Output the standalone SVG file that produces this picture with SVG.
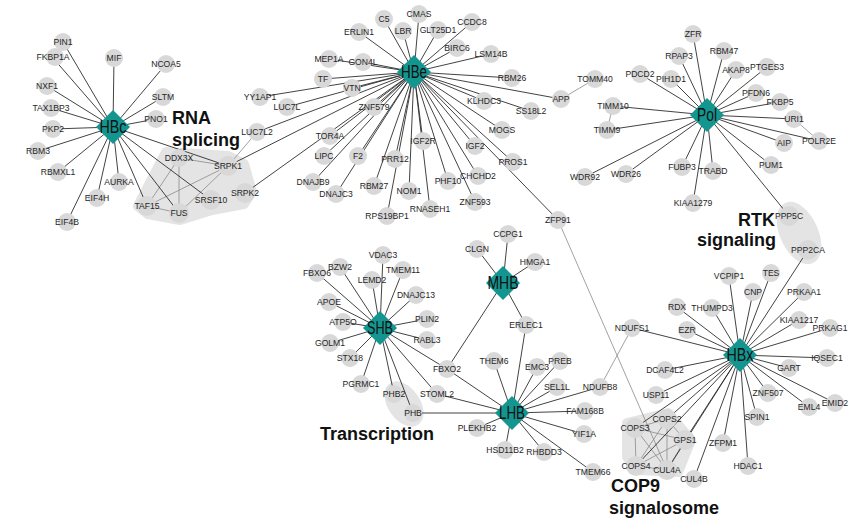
<svg xmlns="http://www.w3.org/2000/svg" xmlns:xlink="http://www.w3.org/1999/xlink" width="851" height="520" viewBox="0 0 851 520">
<style>
.bg{fill:#ffffff}
.blob{fill:#e4e4e4;stroke:#e4e4e4;stroke-width:10;stroke-linejoin:round}
.e line{stroke:#2e2e2e;stroke-width:0.9}
.g line{stroke:#8a8a8a;stroke-width:0.8}
.n circle{fill:#d8d8d8}
.n text{font-family:"Liberation Sans",Arial,sans-serif;font-size:8.6px;fill:#262626;text-anchor:middle}
.h use{fill:#13968f}
.h text{font-family:"Liberation Sans",Arial,sans-serif;font-size:18px;fill:#111;text-anchor:middle}
.t{font-family:"Liberation Sans",Arial,sans-serif;font-size:18px;font-weight:bold;fill:#111}
</style>
<defs>
<path id="dia" d="M0-17L17 0 0 17-17 0Z"/>
</defs>
<rect class="bg" width="851" height="520"/>

<!-- complex shading -->
<g id="complexes">
<path class="blob" d="M138,206 L166,152 L228,156 L244,164 L252,192 L244,204 L212,210 L180,220 L148,214 Z"/>
<ellipse class="blob" cx="404" cy="404" rx="11" ry="20" transform="rotate(-35 404 404)" stroke-width="4"/>
<ellipse class="blob" cx="799" cy="233" rx="14" ry="28" transform="rotate(-25 799 233)" stroke-width="4"/>
<path class="blob" d="M627,423 L668,413 L691,440 L678,472 L639,470 L627,457 Z"/>
</g>

<!-- edges -->
<g id="connectors">
<g class="g">
<line x1="561" y1="99" x2="595" y2="79"/>
<line x1="613" y1="106" x2="607" y2="130"/>
<line x1="794" y1="119" x2="819" y2="141"/>
<line x1="257" y1="132" x2="228" y2="166"/>
<line x1="632" y1="328" x2="600" y2="387"/>
<line x1="558" y1="220" x2="667" y2="470"/>
<line x1="179" y1="158" x2="147" y2="206"/>
<line x1="179" y1="158" x2="179" y2="213"/>
<line x1="179" y1="158" x2="228" y2="166"/>
<line x1="228" y1="166" x2="147" y2="206"/>
<line x1="228" y1="166" x2="179" y2="213"/>
<line x1="147" y1="206" x2="179" y2="213"/>
<line x1="635" y1="428" x2="667" y2="419"/>
<line x1="635" y1="428" x2="685" y2="440"/>
<line x1="635" y1="428" x2="636" y2="466"/>
<line x1="635" y1="428" x2="667" y2="470"/>
<line x1="667" y1="419" x2="636" y2="466"/>
<line x1="667" y1="419" x2="667" y2="470"/>
<line x1="667" y1="419" x2="685" y2="440"/>
<line x1="685" y1="440" x2="636" y2="466"/>
<line x1="685" y1="440" x2="667" y2="470"/>
<line x1="636" y1="466" x2="667" y2="470"/>
</g>
<g class="e">
<!-- HBc -->
<line x1="113" y1="127" x2="63" y2="42"/>
<line x1="113" y1="127" x2="53" y2="58"/>
<line x1="113" y1="127" x2="114" y2="58"/>
<line x1="113" y1="127" x2="166" y2="64"/>
<line x1="113" y1="127" x2="47" y2="86"/>
<line x1="113" y1="127" x2="163" y2="97"/>
<line x1="113" y1="127" x2="51" y2="108"/>
<line x1="113" y1="127" x2="156" y2="119"/>
<line x1="113" y1="127" x2="53" y2="129"/>
<line x1="113" y1="127" x2="38" y2="151"/>
<line x1="113" y1="127" x2="58" y2="172"/>
<line x1="113" y1="127" x2="119" y2="182"/>
<line x1="113" y1="127" x2="97" y2="198"/>
<line x1="113" y1="127" x2="67" y2="222"/>
<line x1="113" y1="127" x2="147" y2="206"/>
<line x1="113" y1="127" x2="179" y2="213"/>
<line x1="113" y1="127" x2="211" y2="200"/>
<line x1="113" y1="127" x2="228" y2="166"/>
<!-- HBe -->
<line x1="414" y1="72" x2="384" y2="19"/>
<line x1="414" y1="72" x2="419" y2="14"/>
<line x1="414" y1="72" x2="403" y2="31"/>
<line x1="414" y1="72" x2="438" y2="30"/>
<line x1="414" y1="72" x2="472" y2="22"/>
<line x1="414" y1="72" x2="359" y2="32"/>
<line x1="414" y1="72" x2="457" y2="48"/>
<line x1="414" y1="72" x2="491" y2="54"/>
<line x1="414" y1="72" x2="329" y2="59"/>
<line x1="414" y1="72" x2="363" y2="62"/>
<line x1="414" y1="72" x2="323" y2="79"/>
<line x1="414" y1="72" x2="352" y2="88"/>
<line x1="414" y1="72" x2="512" y2="78"/>
<line x1="414" y1="72" x2="561" y2="99"/>
<line x1="414" y1="72" x2="484" y2="101"/>
<line x1="414" y1="72" x2="531" y2="111"/>
<line x1="414" y1="72" x2="374" y2="107"/>
<line x1="414" y1="72" x2="502" y2="130"/>
<line x1="414" y1="72" x2="330" y2="136"/>
<line x1="414" y1="72" x2="423" y2="141"/>
<line x1="414" y1="72" x2="475" y2="146"/>
<line x1="414" y1="72" x2="324" y2="156"/>
<line x1="414" y1="72" x2="358" y2="156"/>
<line x1="414" y1="72" x2="395" y2="159"/>
<line x1="414" y1="72" x2="513" y2="162"/>
<line x1="414" y1="72" x2="313" y2="182"/>
<line x1="414" y1="72" x2="336" y2="194"/>
<line x1="414" y1="72" x2="374" y2="186"/>
<line x1="414" y1="72" x2="409" y2="191"/>
<line x1="414" y1="72" x2="448" y2="181"/>
<line x1="414" y1="72" x2="478" y2="176"/>
<line x1="414" y1="72" x2="475" y2="202"/>
<line x1="414" y1="72" x2="430" y2="209"/>
<line x1="414" y1="72" x2="387" y2="216"/>
<line x1="414" y1="72" x2="558" y2="220"/>
<line x1="414" y1="72" x2="260" y2="97"/>
<line x1="414" y1="72" x2="287" y2="107"/>
<line x1="414" y1="72" x2="257" y2="132"/>
<line x1="414" y1="72" x2="228" y2="166"/>
<line x1="414" y1="72" x2="245" y2="193"/>
<!-- Pol -->
<line x1="707" y1="115" x2="693" y2="34"/>
<line x1="707" y1="115" x2="679" y2="56"/>
<line x1="707" y1="115" x2="724" y2="51"/>
<line x1="707" y1="115" x2="736" y2="70"/>
<line x1="707" y1="115" x2="767" y2="67"/>
<line x1="707" y1="115" x2="640" y2="74"/>
<line x1="707" y1="115" x2="671" y2="79"/>
<line x1="707" y1="115" x2="756" y2="93"/>
<line x1="707" y1="115" x2="780" y2="102"/>
<line x1="707" y1="115" x2="613" y2="106"/>
<line x1="707" y1="115" x2="794" y2="119"/>
<line x1="707" y1="115" x2="607" y2="130"/>
<line x1="707" y1="115" x2="784" y2="143"/>
<line x1="707" y1="115" x2="819" y2="141"/>
<line x1="707" y1="115" x2="771" y2="165"/>
<line x1="707" y1="115" x2="682" y2="167"/>
<line x1="707" y1="115" x2="713" y2="171"/>
<line x1="707" y1="115" x2="585" y2="177"/>
<line x1="707" y1="115" x2="626" y2="174"/>
<line x1="707" y1="115" x2="693" y2="203"/>
<line x1="707" y1="115" x2="789" y2="216"/>
<!-- HBx -->
<line x1="740" y1="355" x2="808" y2="250"/>
<line x1="740" y1="355" x2="729" y2="276"/>
<line x1="740" y1="355" x2="771" y2="273"/>
<line x1="740" y1="355" x2="753" y2="292"/>
<line x1="740" y1="355" x2="804" y2="292"/>
<line x1="740" y1="355" x2="677" y2="307"/>
<line x1="740" y1="355" x2="712" y2="308"/>
<line x1="740" y1="355" x2="799" y2="320"/>
<line x1="740" y1="355" x2="830" y2="328"/>
<line x1="740" y1="355" x2="632" y2="328"/>
<line x1="740" y1="355" x2="687" y2="330"/>
<line x1="740" y1="355" x2="827" y2="358"/>
<line x1="740" y1="355" x2="665" y2="370"/>
<line x1="740" y1="355" x2="789" y2="368"/>
<line x1="740" y1="355" x2="656" y2="395"/>
<line x1="740" y1="355" x2="768" y2="393"/>
<line x1="740" y1="355" x2="809" y2="407"/>
<line x1="740" y1="355" x2="835" y2="403"/>
<line x1="740" y1="355" x2="757" y2="417"/>
<line x1="740" y1="355" x2="723" y2="443"/>
<line x1="740" y1="355" x2="748" y2="466"/>
<line x1="740" y1="355" x2="667" y2="419"/>
<line x1="740" y1="355" x2="635" y2="428"/>
<line x1="740" y1="355" x2="685" y2="440"/>
<line x1="740" y1="355" x2="636" y2="466"/>
<line x1="740" y1="355" x2="667" y2="470"/>
<line x1="740" y1="355" x2="694" y2="479"/>
<!-- SHB -->
<line x1="380" y1="328" x2="383" y2="255"/>
<line x1="380" y1="328" x2="340" y2="267"/>
<line x1="380" y1="328" x2="317" y2="273"/>
<line x1="380" y1="328" x2="403" y2="270"/>
<line x1="380" y1="328" x2="372" y2="280"/>
<line x1="380" y1="328" x2="416" y2="295"/>
<line x1="380" y1="328" x2="329" y2="302"/>
<line x1="380" y1="328" x2="343" y2="322"/>
<line x1="380" y1="328" x2="427" y2="319"/>
<line x1="380" y1="328" x2="330" y2="343"/>
<line x1="380" y1="328" x2="427" y2="340"/>
<line x1="380" y1="328" x2="350" y2="358"/>
<line x1="380" y1="328" x2="361" y2="384"/>
<line x1="380" y1="328" x2="394" y2="394"/>
<line x1="380" y1="328" x2="413" y2="413"/>
<line x1="380" y1="328" x2="437" y2="394"/>
<line x1="380" y1="328" x2="447" y2="369"/>
<!-- MHB -->
<line x1="503" y1="283" x2="477" y2="249"/>
<line x1="503" y1="283" x2="508" y2="234"/>
<line x1="503" y1="283" x2="535" y2="262"/>
<line x1="503" y1="283" x2="526" y2="325"/>
<line x1="503" y1="283" x2="447" y2="369"/>
<!-- LHB -->
<line x1="512" y1="413" x2="413" y2="413"/>
<line x1="512" y1="413" x2="437" y2="394"/>
<line x1="512" y1="413" x2="447" y2="369"/>
<line x1="512" y1="413" x2="494" y2="361"/>
<line x1="512" y1="413" x2="526" y2="325"/>
<line x1="512" y1="413" x2="537" y2="367"/>
<line x1="512" y1="413" x2="560" y2="361"/>
<line x1="512" y1="413" x2="557" y2="387"/>
<line x1="512" y1="413" x2="600" y2="387"/>
<line x1="512" y1="413" x2="585" y2="411"/>
<line x1="512" y1="413" x2="584" y2="434"/>
<line x1="512" y1="413" x2="593" y2="472"/>
<line x1="512" y1="413" x2="544" y2="452"/>
<line x1="512" y1="413" x2="505" y2="450"/>
<line x1="512" y1="413" x2="477" y2="428"/>
</g>
</g>

<!-- protein nodes -->
<g class="n">
<g id="n-PIN1"><circle cx="63" cy="42" r="9"/><text x="63" y="45">PIN1</text></g>
<g id="n-FKBP1A"><circle cx="55" cy="57" r="9"/><text x="53" y="60">FKBP1A</text></g>
<g id="n-MIF"><circle cx="114" cy="58" r="9"/><text x="114" y="61">MIF</text></g>
<g id="n-NCOA5"><circle cx="166" cy="64" r="9"/><text x="166" y="67">NCOA5</text></g>
<g id="n-NXF1"><circle cx="47" cy="86" r="9"/><text x="47" y="89">NXF1</text></g>
<g id="n-SLTM"><circle cx="163" cy="97" r="9"/><text x="163" y="100">SLTM</text></g>
<g id="n-TAX1BP3"><circle cx="51" cy="108" r="9"/><text x="51" y="111">TAX1BP3</text></g>
<g id="n-PNO1"><circle cx="156" cy="119" r="9"/><text x="156" y="122">PNO1</text></g>
<g id="n-PKP2"><circle cx="53" cy="129" r="9"/><text x="53" y="132">PKP2</text></g>
<g id="n-RBM3"><circle cx="38" cy="151" r="9"/><text x="38" y="154">RBM3</text></g>
<g id="n-RBMXL1"><circle cx="58" cy="172" r="9"/><text x="58" y="175">RBMXL1</text></g>
<g id="n-AURKA"><circle cx="119" cy="182" r="9"/><text x="119" y="185">AURKA</text></g>
<g id="n-EIF4H"><circle cx="97" cy="198" r="9"/><text x="97" y="201">EIF4H</text></g>
<g id="n-EIF4B"><circle cx="67" cy="222" r="9"/><text x="67" y="225">EIF4B</text></g>
<g id="n-DDX3X"><circle cx="179" cy="158" r="9"/><text x="179" y="161">DDX3X</text></g>
<g id="n-SRPK1"><circle cx="228" cy="166" r="10"/><text x="228" y="169">SRPK1</text></g>
<g id="n-SRPK2"><circle cx="245" cy="193" r="10"/><text x="245" y="196">SRPK2</text></g>
<g id="n-SRSF10"><circle cx="211" cy="200" r="10"/><text x="211" y="203">SRSF10</text></g>
<g id="n-TAF15"><circle cx="147" cy="206" r="10"/><text x="147" y="209">TAF15</text></g>
<g id="n-FUS"><circle cx="179" cy="213" r="10"/><text x="179" y="216">FUS</text></g>

<g id="n-C5"><circle cx="384" cy="19" r="9"/><text x="384" y="22">C5</text></g>
<g id="n-CMAS"><circle cx="419" cy="14" r="9"/><text x="419" y="17">CMAS</text></g>
<g id="n-LBR"><circle cx="403" cy="31" r="9"/><text x="403" y="34">LBR</text></g>
<g id="n-GLT25D1"><circle cx="438" cy="30" r="9"/><text x="438" y="33">GLT25D1</text></g>
<g id="n-CCDC8"><circle cx="472" cy="22" r="9"/><text x="472" y="25">CCDC8</text></g>
<g id="n-ERLIN1"><circle cx="359" cy="32" r="9"/><text x="359" y="35">ERLIN1</text></g>
<g id="n-BIRC6"><circle cx="457" cy="48" r="9"/><text x="457" y="51">BIRC6</text></g>
<g id="n-LSM14B"><circle cx="491" cy="54" r="9"/><text x="491" y="57">LSM14B</text></g>
<g id="n-MEP1A"><circle cx="329" cy="59" r="9"/><text x="329" y="62">MEP1A</text></g>
<g id="n-GON4L"><circle cx="363" cy="62" r="9"/><text x="363" y="65">GON4L</text></g>
<g id="n-TF"><circle cx="323" cy="79" r="9"/><text x="323" y="82">TF</text></g>
<g id="n-VTN"><circle cx="352" cy="88" r="9"/><text x="352" y="91">VTN</text></g>
<g id="n-RBM26"><circle cx="512" cy="78" r="9"/><text x="512" y="81">RBM26</text></g>
<g id="n-APP"><circle cx="561" cy="99" r="9"/><text x="561" y="102">APP</text></g>
<g id="n-KLHDC3"><circle cx="484" cy="101" r="9"/><text x="484" y="104">KLHDC3</text></g>
<g id="n-SS18L2"><circle cx="531" cy="111" r="9"/><text x="531" y="114">SS18L2</text></g>
<g id="n-ZNF579"><circle cx="374" cy="107" r="9"/><text x="374" y="110">ZNF579</text></g>
<g id="n-MOGS"><circle cx="502" cy="130" r="9"/><text x="502" y="133">MOGS</text></g>
<g id="n-TOR4A"><circle cx="330" cy="136" r="9"/><text x="330" y="139">TOR4A</text></g>
<g id="n-IGF2R"><circle cx="423" cy="141" r="9"/><text x="423" y="144">IGF2R</text></g>
<g id="n-IGF2"><circle cx="475" cy="146" r="9"/><text x="475" y="149">IGF2</text></g>
<g id="n-LIPC"><circle cx="324" cy="156" r="9"/><text x="324" y="159">LIPC</text></g>
<g id="n-F2"><circle cx="358" cy="156" r="9"/><text x="358" y="159">F2</text></g>
<g id="n-PRR12"><circle cx="395" cy="159" r="9"/><text x="395" y="162">PRR12</text></g>
<g id="n-PROS1"><circle cx="513" cy="162" r="9"/><text x="513" y="165">PROS1</text></g>
<g id="n-DNAJB9"><circle cx="313" cy="182" r="9"/><text x="313" y="185">DNAJB9</text></g>
<g id="n-DNAJC3"><circle cx="336" cy="194" r="9"/><text x="336" y="197">DNAJC3</text></g>
<g id="n-RBM27"><circle cx="374" cy="186" r="9"/><text x="374" y="189">RBM27</text></g>
<g id="n-NOM1"><circle cx="409" cy="191" r="9"/><text x="409" y="194">NOM1</text></g>
<g id="n-PHF10"><circle cx="448" cy="181" r="9"/><text x="448" y="184">PHF10</text></g>
<g id="n-CHCHD2"><circle cx="478" cy="176" r="9"/><text x="478" y="179">CHCHD2</text></g>
<g id="n-ZNF593"><circle cx="475" cy="202" r="9"/><text x="475" y="205">ZNF593</text></g>
<g id="n-RNASEH1"><circle cx="430" cy="209" r="9"/><text x="430" y="212">RNASEH1</text></g>
<g id="n-RPS19BP1"><circle cx="387" cy="216" r="9"/><text x="387" y="219">RPS19BP1</text></g>
<g id="n-ZFP91"><circle cx="558" cy="220" r="9"/><text x="558" y="223">ZFP91</text></g>
<g id="n-YY1AP1"><circle cx="260" cy="97" r="9"/><text x="260" y="100">YY1AP1</text></g>
<g id="n-LUC7L"><circle cx="287" cy="107" r="9"/><text x="287" y="110">LUC7L</text></g>
<g id="n-LUC7L2"><circle cx="257" cy="132" r="9"/><text x="257" y="135">LUC7L2</text></g>

<g id="n-ZFR"><circle cx="693" cy="34" r="9"/><text x="693" y="37">ZFR</text></g>
<g id="n-RPAP3"><circle cx="679" cy="56" r="9"/><text x="679" y="59">RPAP3</text></g>
<g id="n-RBM47"><circle cx="724" cy="51" r="9"/><text x="724" y="54">RBM47</text></g>
<g id="n-AKAP8"><circle cx="736" cy="70" r="9"/><text x="736" y="73">AKAP8</text></g>
<g id="n-PTGES3"><circle cx="767" cy="67" r="9"/><text x="767" y="70">PTGES3</text></g>
<g id="n-PDCD2"><circle cx="640" cy="74" r="9"/><text x="640" y="77">PDCD2</text></g>
<g id="n-PIH1D1"><circle cx="671" cy="79" r="9"/><text x="671" y="82">PIH1D1</text></g>
<g id="n-TOMM40"><circle cx="595" cy="79" r="9"/><text x="595" y="82">TOMM40</text></g>
<g id="n-PFDN6"><circle cx="756" cy="93" r="9"/><text x="756" y="96">PFDN6</text></g>
<g id="n-FKBP5"><circle cx="780" cy="102" r="9"/><text x="780" y="105">FKBP5</text></g>
<g id="n-TIMM10"><circle cx="613" cy="106" r="9"/><text x="613" y="109">TIMM10</text></g>
<g id="n-URI1"><circle cx="794" cy="119" r="9"/><text x="794" y="122">URI1</text></g>
<g id="n-TIMM9"><circle cx="607" cy="130" r="9"/><text x="607" y="133">TIMM9</text></g>
<g id="n-AIP"><circle cx="784" cy="143" r="9"/><text x="784" y="146">AIP</text></g>
<g id="n-POLR2E"><circle cx="819" cy="141" r="9"/><text x="819" y="144">POLR2E</text></g>
<g id="n-PUM1"><circle cx="771" cy="165" r="9"/><text x="771" y="168">PUM1</text></g>
<g id="n-FUBP3"><circle cx="682" cy="167" r="9"/><text x="682" y="170">FUBP3</text></g>
<g id="n-TRABD"><circle cx="713" cy="171" r="9"/><text x="713" y="174">TRABD</text></g>
<g id="n-WDR92"><circle cx="585" cy="177" r="9"/><text x="585" y="180">WDR92</text></g>
<g id="n-WDR26"><circle cx="626" cy="174" r="9"/><text x="626" y="177">WDR26</text></g>
<g id="n-KIAA1279"><circle cx="693" cy="203" r="9"/><text x="693" y="206">KIAA1279</text></g>
<g id="n-PPP5C"><circle cx="789" cy="216" r="10"/><text x="789" y="219">PPP5C</text></g>
<g id="n-PPP2CA"><circle cx="808" cy="250" r="10"/><text x="808" y="253">PPP2CA</text></g>

<g id="n-VCPIP1"><circle cx="729" cy="276" r="9"/><text x="729" y="279">VCPIP1</text></g>
<g id="n-TES"><circle cx="771" cy="273" r="9"/><text x="771" y="276">TES</text></g>
<g id="n-CNP"><circle cx="753" cy="292" r="9"/><text x="753" y="295">CNP</text></g>
<g id="n-PRKAA1"><circle cx="804" cy="292" r="9"/><text x="804" y="295">PRKAA1</text></g>
<g id="n-RDX"><circle cx="677" cy="307" r="9"/><text x="677" y="310">RDX</text></g>
<g id="n-THUMPD3"><circle cx="712" cy="308" r="9"/><text x="712" y="311">THUMPD3</text></g>
<g id="n-KIAA1217"><circle cx="799" cy="320" r="9"/><text x="799" y="323">KIAA1217</text></g>
<g id="n-PRKAG1"><circle cx="830" cy="328" r="9"/><text x="830" y="331">PRKAG1</text></g>
<g id="n-NDUFS1"><circle cx="632" cy="328" r="9"/><text x="632" y="331">NDUFS1</text></g>
<g id="n-EZR"><circle cx="687" cy="330" r="9"/><text x="687" y="333">EZR</text></g>
<g id="n-IQSEC1"><circle cx="827" cy="358" r="9"/><text x="827" y="361">IQSEC1</text></g>
<g id="n-DCAF4L2"><circle cx="665" cy="370" r="9"/><text x="665" y="373">DCAF4L2</text></g>
<g id="n-GART"><circle cx="789" cy="368" r="9"/><text x="789" y="371">GART</text></g>
<g id="n-USP11"><circle cx="656" cy="395" r="9"/><text x="656" y="398">USP11</text></g>
<g id="n-ZNF507"><circle cx="768" cy="393" r="9"/><text x="768" y="396">ZNF507</text></g>
<g id="n-EML4"><circle cx="809" cy="407" r="9"/><text x="809" y="410">EML4</text></g>
<g id="n-EMID2"><circle cx="835" cy="403" r="9"/><text x="835" y="406">EMID2</text></g>
<g id="n-SPIN1"><circle cx="757" cy="417" r="9"/><text x="757" y="420">SPIN1</text></g>
<g id="n-ZFPM1"><circle cx="723" cy="443" r="9"/><text x="723" y="446">ZFPM1</text></g>
<g id="n-HDAC1"><circle cx="748" cy="466" r="9"/><text x="748" y="469">HDAC1</text></g>
<g id="n-COPS2"><circle cx="667" cy="419" r="10"/><text x="667" y="422">COPS2</text></g>
<g id="n-COPS3"><circle cx="635" cy="428" r="10"/><text x="635" y="431">COPS3</text></g>
<g id="n-GPS1"><circle cx="685" cy="440" r="10"/><text x="685" y="443">GPS1</text></g>
<g id="n-COPS4"><circle cx="636" cy="466" r="10"/><text x="636" y="469">COPS4</text></g>
<g id="n-CUL4A"><circle cx="667" cy="470" r="10"/><text x="667" y="473">CUL4A</text></g>
<g id="n-CUL4B"><circle cx="694" cy="479" r="9"/><text x="694" y="482">CUL4B</text></g>

<g id="n-VDAC3"><circle cx="383" cy="255" r="9"/><text x="383" y="258">VDAC3</text></g>
<g id="n-BZW2"><circle cx="340" cy="267" r="9"/><text x="340" y="270">BZW2</text></g>
<g id="n-FBXO6"><circle cx="317" cy="273" r="9"/><text x="317" y="276">FBXO6</text></g>
<g id="n-TMEM11"><circle cx="403" cy="270" r="9"/><text x="403" y="273">TMEM11</text></g>
<g id="n-LEMD2"><circle cx="372" cy="280" r="9"/><text x="372" y="283">LEMD2</text></g>
<g id="n-DNAJC13"><circle cx="416" cy="295" r="9"/><text x="416" y="298">DNAJC13</text></g>
<g id="n-APOE"><circle cx="329" cy="302" r="9"/><text x="329" y="305">APOE</text></g>
<g id="n-ATP5O"><circle cx="343" cy="322" r="9"/><text x="343" y="325">ATP5O</text></g>
<g id="n-PLIN2"><circle cx="427" cy="319" r="9"/><text x="427" y="322">PLIN2</text></g>
<g id="n-GOLM1"><circle cx="330" cy="343" r="9"/><text x="330" y="346">GOLM1</text></g>
<g id="n-RABL3"><circle cx="427" cy="340" r="9"/><text x="427" y="343">RABL3</text></g>
<g id="n-STX18"><circle cx="350" cy="358" r="9"/><text x="350" y="361">STX18</text></g>
<g id="n-PGRMC1"><circle cx="361" cy="384" r="9"/><text x="361" y="387">PGRMC1</text></g>
<g id="n-PHB2"><circle cx="394" cy="394" r="9"/><text x="394" y="397">PHB2</text></g>
<g id="n-PHB"><circle cx="413" cy="413" r="9"/><text x="413" y="416">PHB</text></g>
<g id="n-STOML2"><circle cx="437" cy="394" r="9"/><text x="437" y="397">STOML2</text></g>
<g id="n-FBXO2"><circle cx="447" cy="369" r="9"/><text x="447" y="372">FBXO2</text></g>

<g id="n-CLGN"><circle cx="477" cy="249" r="9"/><text x="477" y="252">CLGN</text></g>
<g id="n-CCPG1"><circle cx="508" cy="234" r="9"/><text x="508" y="237">CCPG1</text></g>
<g id="n-HMGA1"><circle cx="535" cy="262" r="9"/><text x="535" y="265">HMGA1</text></g>
<g id="n-ERLEC1"><circle cx="526" cy="325" r="9"/><text x="526" y="328">ERLEC1</text></g>

<g id="n-THEM6"><circle cx="494" cy="361" r="9"/><text x="494" y="364">THEM6</text></g>
<g id="n-EMC3"><circle cx="537" cy="367" r="9"/><text x="537" y="370">EMC3</text></g>
<g id="n-PREB"><circle cx="560" cy="361" r="9"/><text x="560" y="364">PREB</text></g>
<g id="n-SEL1L"><circle cx="557" cy="387" r="9"/><text x="557" y="390">SEL1L</text></g>
<g id="n-NDUFB8"><circle cx="600" cy="387" r="9"/><text x="600" y="390">NDUFB8</text></g>
<g id="n-FAM168B"><circle cx="585" cy="411" r="9"/><text x="585" y="414">FAM168B</text></g>
<g id="n-YIF1A"><circle cx="584" cy="434" r="9"/><text x="584" y="437">YIF1A</text></g>
<g id="n-TMEM66"><circle cx="593" cy="472" r="9"/><text x="593" y="475">TMEM66</text></g>
<g id="n-RHBDD3"><circle cx="544" cy="452" r="9"/><text x="544" y="455">RHBDD3</text></g>
<g id="n-HSD11B2"><circle cx="505" cy="450" r="9"/><text x="505" y="453">HSD11B2</text></g>
<g id="n-PLEKHB2"><circle cx="477" cy="428" r="9"/><text x="477" y="431">PLEKHB2</text></g>
</g>

<!-- hubs -->
<g class="h">
<g id="hub-HBc"><use xlink:href="#dia" x="113" y="127"/><text x="113" y="133" textLength="27" lengthAdjust="spacingAndGlyphs">HBc</text></g>
<g id="hub-HBe"><use xlink:href="#dia" x="414" y="72"/><text x="414" y="78" textLength="26" lengthAdjust="spacingAndGlyphs">HBe</text></g>
<g id="hub-Pol"><use xlink:href="#dia" x="707" y="115"/><text x="707" y="121" textLength="20" lengthAdjust="spacingAndGlyphs">Pol</text></g>
<g id="hub-HBx"><use xlink:href="#dia" x="740" y="355"/><text x="740" y="361" textLength="27" lengthAdjust="spacingAndGlyphs">HBx</text></g>
<g id="hub-SHB"><use xlink:href="#dia" x="380" y="328"/><text x="380" y="334" textLength="26" lengthAdjust="spacingAndGlyphs">SHB</text></g>
<g id="hub-MHB"><use xlink:href="#dia" x="503" y="283"/><text x="503" y="289" textLength="31" lengthAdjust="spacingAndGlyphs">MHB</text></g>
<g id="hub-LHB"><use xlink:href="#dia" x="512" y="413"/><text x="512" y="419" textLength="26" lengthAdjust="spacingAndGlyphs">LHB</text></g>
</g>

<!-- complex titles -->
<g id="titles">
<text class="t" x="172" y="124">RNA</text>
<text class="t" x="172" y="146">splicing</text>
<text class="t" x="738" y="226">RTK</text>
<text class="t" x="697" y="246">signaling</text>
<text class="t" x="320" y="440">Transcription</text>
<text class="t" x="611" y="492">COP9</text>
<text class="t" x="609" y="514">signalosome</text>
</g>
</svg>
